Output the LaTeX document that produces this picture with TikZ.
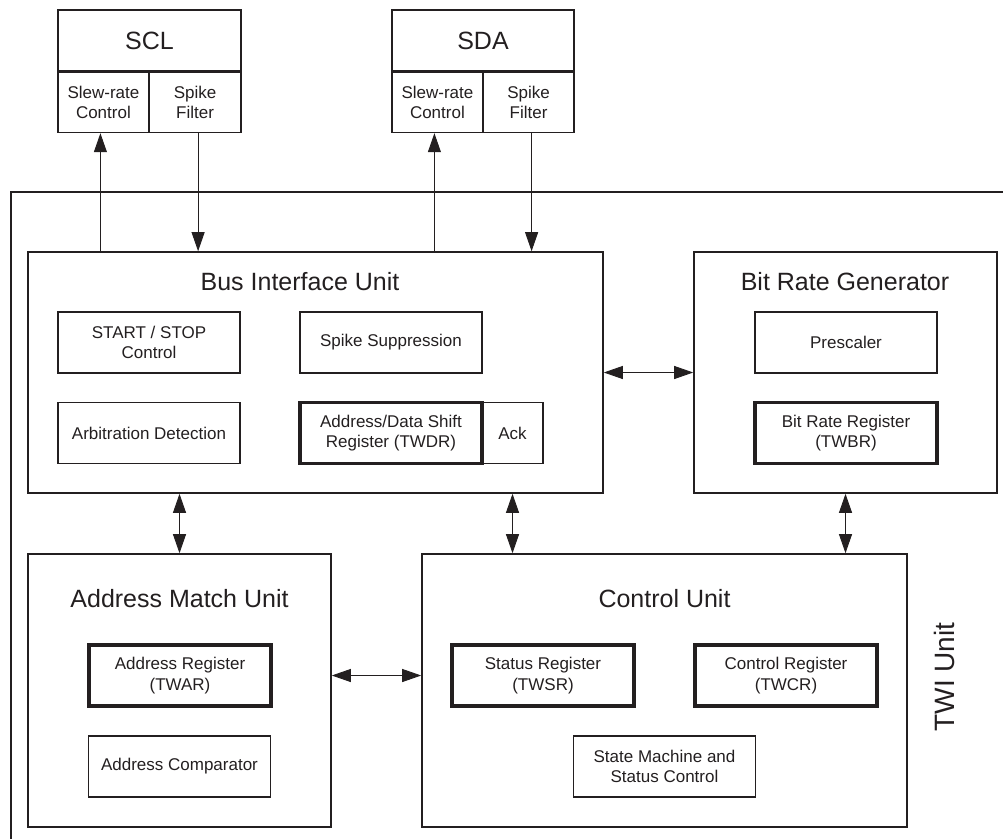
\documentclass[tikz,border=0pt]{standalone}
\usepackage{fontspec}
\setmainfont{Liberation Sans}
\usetikzlibrary{arrows.meta,positioning}
\definecolor{ink}{HTML}{231F20}

\begin{document}
\begin{tikzpicture}[x=1pt, y=-1pt, color=ink,
  unitbox/.style={draw=ink, line width=1.6pt, inner sep=0pt},
  subbox/.style={draw=ink, line width=1.4pt, inner sep=0pt, minimum width=182pt,
              minimum height=61pt, align=center, font=\fontsize{17}{20.5}\selectfont},
  regbox/.style={subbox, line width=3.6pt},
  ttl/.style={font=\fontsize{25}{30}\selectfont, inner sep=0pt},
  arr/.style={-{Triangle[length=19pt,width=13pt]}, line width=0.9pt, color=ink},
  dblarr/.style={{Triangle[length=19pt,width=13pt]}-{Triangle[length=19pt,width=13pt]}, line width=0.9pt, color=ink},
]
  \clip (0,0) rectangle (1003,838);
  % TWI frame, open to the right and bottom
  \node[unitbox, minimum width=1040pt, minimum height=690pt, anchor=north west](twi) at (10,191) {};
  \node[ttl, font=\fontsize{28}{30}\selectfont, rotate=90](twil) at (944,677) {TWI Unit};
  % pins
  \node[unitbox, ttl, minimum width=183pt, minimum height=61pt](scl) at (149.5,40.5) {SCL};
  \node[subbox, minimum width=91pt, minimum height=60pt, below right=0pt and 0pt of scl.south west](sclslew) {Slew-rate\\Control};
  \node[subbox, minimum width=92pt, minimum height=60pt, below left=0pt and 0pt of scl.south east](sclspike) {Spike\\Filter};
  \node[unitbox, ttl, minimum width=182pt, minimum height=61pt](sda) at (483,40.5) {SDA};
  \node[subbox, minimum width=91pt, minimum height=60pt, below right=0pt and 0pt of sda.south west](sdaslew) {Slew-rate\\Control};
  \node[subbox, minimum width=91pt, minimum height=60pt, below left=0pt and 0pt of sda.south east](sdaspike) {Spike\\Filter};
  % units
  \node[unitbox, minimum width=575pt, minimum height=241pt](biu) at (315.5,372.5) {};
  \node[ttl](biut) at (300,282) {Bus Interface Unit};
  \node[unitbox, minimum width=303pt, minimum height=241pt](brg) at (845.5,372.5) {};
  \node[ttl](brgt) at (845,282) {Bit Rate Generator};
  \node[unitbox, minimum width=303pt, minimum height=273pt](amu) at (179.5,690.5) {};
  \node[ttl](amut) at (179.5,599) {Address Match Unit};
  \node[unitbox, minimum width=485pt, minimum height=273pt](cu) at (664.5,690.5) {};
  \node[ttl](cut) at (664.5,599) {Control Unit};
  % blocks inside the units
  \node[subbox](sst) at (149,342.5) {START / STOP\\Control};
  \node[subbox](ssup) at (391,342.5) {Spike Suppression};
  \node[subbox](arb) at (149,433) {Arbitration Detection};
  \node[subbox, minimum width=61pt](ack) at (512.5,433) {Ack};
  \node[regbox](twdr) at (391,433) {Address/Data Shift\\Register (TWDR)};
  \node[subbox](pre) at (846,342.5) {Prescaler};
  \node[regbox](twbr) at (846,433) {Bit Rate Register\\(TWBR)};
  \node[regbox](twar) at (180,675.5) {Address Register\\(TWAR)};
  \node[subbox](acmp) at (179.5,766.5) {Address Comparator};
  \node[regbox](twsr) at (543,675.5) {Status Register\\(TWSR)};
  \node[regbox](twcr) at (786,675.5) {Control Register\\(TWCR)};
  \node[subbox](fsm) at (664.5,766.5) {State Machine and\\Status Control};
  % links
  \draw[arr]([xshift=-3pt]sclslew.south |- biu.north)--([xshift=-3pt]sclslew.south);
  \draw[arr]([xshift=3pt]sclspike.south)--([xshift=3pt]sclspike.south |- biu.north);
  \draw[arr]([xshift=-3pt]sdaslew.south |- biu.north)--([xshift=-3pt]sdaslew.south);
  \draw[arr]([xshift=3pt]sdaspike.south)--([xshift=3pt]sdaspike.south |- biu.north);
  \draw[dblarr](biu.east)--(brg.west);
  \draw[dblarr](amu.north |- biu.south)--(amu.north);
  \draw[dblarr](ack.south |- biu.south)--(ack.south |- cu.north);
  \draw[dblarr](brg.south)--(brg.south |- cu.north);
  \draw[dblarr](amu.east |- twar)--(cu.west |- twar);
\end{tikzpicture}
\end{document}
